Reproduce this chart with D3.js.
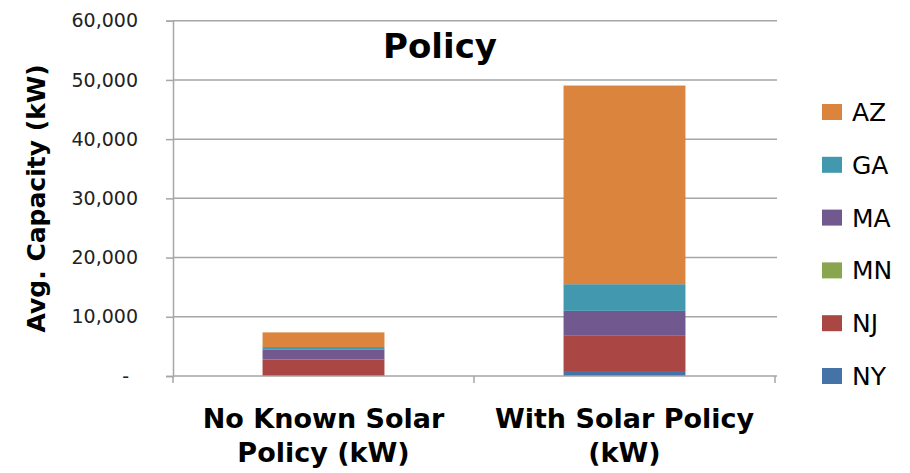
<!DOCTYPE html>
<html>
<head>
<meta charset="utf-8">
<script src="https://cdn.jsdelivr.net/npm/d3@7"></script>
<style>
  html, body { margin: 0; padding: 0; background: #fff; }
  svg { display: block; }
</style>
</head>
<body>
<svg id="chart" width="910" height="473"></svg>
<script>
// Categories along the x axis (each label split over two lines)
const categories = ["No Known Solar Policy (kW)", "With Solar Policy (kW)"];
const categoryLines = [["No Known Solar", "Policy (kW)"], ["With Solar Policy", "(kW)"]];

// States, stacked bottom to top
const states = ["NY", "NJ", "MN", "MA", "GA", "AZ"];
const stateColors = ["#4572A7", "#AA4643", "#89A54E", "#71588F", "#4198AF", "#DB843D"];

// Average capacity (kW) per state, one value per category
const NY = [0, 840];
const NJ = [2800, 5950];
const MN = [0, 0];
const MA = [1700, 4210];
const GA = [390, 4500];
const AZ = [2475, 33550];

const yTicks = [0, 10000, 20000, 30000, 40000, 50000, 60000];

const seriesValues = { NY, NJ, MN, MA, GA, AZ };
const rows = categories.map((c, i) => {
  const r = { category: c };
  states.forEach(s => r[s] = seriesValues[s][i]);
  return r;
});

const svg = d3.select("#chart");
const plot = { left: 173, right: 775, top: 20.7, bottom: 376 };
const gridColor = "#a6a6a6";

const x = d3.scaleBand()
  .domain(categories)
  .range([plot.left, plot.right])
  .paddingInner(0.595)
  .paddingOuter(0.2975);

const y = d3.scaleLinear()
  .domain([0, 60000])
  .range([plot.bottom, plot.top]);

const color = d3.scaleOrdinal().domain(states).range(stateColors);

// Horizontal gridlines
svg.append("g")
  .selectAll("line")
  .data(yTicks.filter(t => t > 0))
  .join("line")
  .attr("x1", plot.left).attr("x2", plot.right + 2)
  .attr("y1", d => y(d)).attr("y2", d => y(d))
  .attr("stroke", gridColor).attr("stroke-width", 1.5);

// Stacked bars
const stack = d3.stack().keys(states);
const layers = stack(rows);
svg.append("g")
  .selectAll("g")
  .data(layers)
  .join("g")
  .attr("fill", d => color(d.key))
  .selectAll("rect")
  .data(d => d)
  .join("rect")
  .attr("x", d => x(d.data.category))
  .attr("width", x.bandwidth())
  .attr("y", d => y(d[1]))
  .attr("height", d => Math.max(0, y(d[0]) - y(d[1])));

// Y axis
const yAxis = d3.axisLeft(y)
  .tickValues(yTicks)
  .tickSize(7)
  .tickPadding(28)
  .tickFormat(d => d === 0 ? "-" : d3.format(",")(d));
const yg = svg.append("g")
  .attr("transform", `translate(${plot.left},0)`)
  .call(yAxis);
yg.select(".domain").attr("stroke", gridColor).attr("stroke-width", 1.5);
yg.selectAll(".tick line").attr("stroke", gridColor).attr("stroke-width", 1.5);
yg.selectAll(".tick text")
  .attr("font-family", "DejaVu Sans, sans-serif")
  .attr("font-size", 19)
  .attr("fill", "#222")
  .attr("x", -35);
yg.selectAll(".tick text").filter(d => d === 0).attr("x", -44);

// X axis: baseline with ticks at category boundaries
const step = x.step();
const boundaries = d3.range(categories.length + 1).map(i => plot.left + i * step);
const xg = svg.append("g");
xg.append("line")
  .attr("x1", plot.left).attr("x2", plot.right + 2)
  .attr("y1", y(0)).attr("y2", y(0))
  .attr("stroke", gridColor).attr("stroke-width", 1.5);
xg.selectAll("line.tick")
  .data(boundaries)
  .join("line")
  .attr("class", "tick")
  .attr("x1", d => d).attr("x2", d => d)
  .attr("y1", y(0)).attr("y2", y(0) + 7)
  .attr("stroke", gridColor).attr("stroke-width", 1.5);

// Category labels
xg.selectAll("text.cat")
  .data(categories)
  .join("text")
  .attr("class", "cat")
  .attr("text-anchor", "middle")
  .attr("font-family", "DejaVu Sans, sans-serif")
  .attr("font-weight", "bold")
  .attr("font-size", 27)
  .attr("fill", "#000")
  .each(function(d, i) {
    const t = d3.select(this);
    categoryLines[i].forEach((line, j) => {
      t.append("tspan")
        .attr("x", x(d) + x.bandwidth() / 2)
        .attr("y", 428 + j * 34)
        .text(line);
    });
  });

// Y axis title
svg.append("text")
  .attr("transform", `translate(45,${(plot.top + plot.bottom) / 2}) rotate(-90)`)
  .attr("text-anchor", "middle")
  .attr("font-family", "DejaVu Sans, sans-serif")
  .attr("font-weight", "bold")
  .attr("font-size", 25)
  .attr("fill", "#000")
  .text("Avg. Capacity (kW)");

// Chart title
svg.append("text")
  .attr("x", 440)
  .attr("y", 58)
  .attr("text-anchor", "middle")
  .attr("font-family", "DejaVu Sans, sans-serif")
  .attr("font-weight", "bold")
  .attr("font-size", 34)
  .attr("fill", "#000")
  .text("Policy");

// Legend, listed top of stack first
const legendStates = states.slice().reverse();
const legend = svg.append("g")
  .selectAll("g")
  .data(legendStates)
  .join("g")
  .attr("transform", (d, i) => `translate(822,${112 + i * 52.8})`);
legend.append("rect")
  .attr("x", 0).attr("y", -8)
  .attr("width", 20).attr("height", 16)
  .attr("fill", d => color(d));
legend.append("text")
  .attr("x", 30).attr("y", 0)
  .attr("dy", "0.36em")
  .attr("font-family", "DejaVu Sans, sans-serif")
  .attr("font-size", 25)
  .attr("fill", "#000")
  .text(d => d);
</script>
</body>
</html>
